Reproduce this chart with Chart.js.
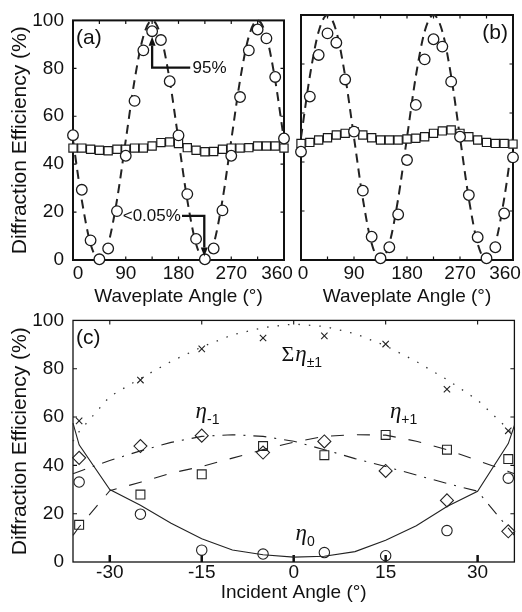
<!DOCTYPE html>
<html>
<head>
<meta charset="utf-8">
<script src="https://cdn.jsdelivr.net/npm/chart.js@4.4.1/dist/chart.umd.min.js"></script>
<style>
  body { margin: 0; background: #fff; }
  #wrap { position: relative; width: 522px; height: 612px; overflow: hidden; background: #fff; }
  canvas { position: absolute; }
</style>
</head>
<body>
<div id="wrap">
  <canvas id="chartA" width="300" height="310" style="left:0;top:0"></canvas>
  <canvas id="chartB" width="262" height="310" style="left:260px;top:0"></canvas>
  <canvas id="chartC" width="522" height="312" style="left:0;top:300px"></canvas>
</div>
<script>
Chart.defaults.font.family = '"Liberation Sans", Arial, Helvetica, sans-serif';
Chart.defaults.color = '#111';

// waveplate scans (a) and (b)
var waveAngles = [0,15,30,45,60,75,90,105,120,135,150,165,180,195,210,225,240,255,270,285,300,315,330,345,360];
var circA = [52.1,29.3,8.2,0.3,4.8,20.4,43.5,66.4,87.5,95.5,91.8,74.6,52.0,27.5,8.8,0.3,4.8,20.7,43.5,68.0,87.5,96.2,92.5,76.4,50.7];
var squareA = [46.7,46.7,46.2,45.8,45.6,46.2,46.2,46.7,46.7,47.6,49.0,49.3,48.6,46.9,45.8,45.2,45.3,46.2,46.7,46.7,46.9,47.6,47.6,47.6,46.7];
var fitA = [50,25,6.7,0,6.7,25,50,75,93.3,100,93.3,75,50,25,6.7,0,6.7,25,50,75,93.3,100,93.3,75,50];
var circB = [44.2,66.7,83.7,92.5,88.7,73.7,52.4,28.3,9.5,0.7,5.2,18.6,40.8,63.3,81.9,90.1,87.1,72.8,50.3,26.5,9.3,0.7,5.2,19.0,41.9];
var squareB = [47.6,48.0,49.0,49.9,51.0,51.7,52.4,51.0,49.9,49.0,49.0,49.0,49.4,49.7,50.3,51.7,52.7,53.1,51.7,50.3,49.0,48.0,47.6,47.6,47.3];
var fitB = [50,75,93.3,100,93.3,75,50,25,6.7,0,6.7,25,50,75,93.3,100,93.3,75,50,25,6.7,0,6.7,25,50];

// incident angle scan (c)
var incAngles = [-35,-25,-15,-5,5,15,25,35];
var sumMeas   = [58.4,75.3,88.2,92.7,93.6,90.2,71.5,54.3];
var minusMeas = [43.1,48.0,52.3,45.3,49.9,37.7,25.5,12.7];
var plusMeas  = [15.4,27.9,36.3,48.0,44.2,52.6,46.5,42.6];
var zeroMeas  = [33.1,19.8,4.9,3.3,3.9,2.6,13.0,34.7];
var modelAngles = [-36,-35,-30,-25,-20,-15,-10,-5,0,5,10,15,20,25,30,35,36];
var sumModel   = [50,54,68.5,76,83,89,94,97,98.5,97.5,94.5,89.5,83,75.5,67,55,52];
var minusModel = [36.5,37.5,42,46,49.5,52,52.7,52,50,46.5,42.8,39.5,36,32.5,29.3,14,11];
var plusModel  = [11,14.5,29.5,33,36.8,39.5,43,46.5,49.6,52,52.7,52.5,50,46.5,42,37.5,36.5];
var zeroModel  = [57.5,48.5,30,23.5,16,9.6,5,3,2,2.4,4.3,9,15,23,29.3,49,56.5];

var waveLabels = [0,90,180,270,360];
var waveMarks = [45,90,135,180,225,270,315];
var incLabels = [-30,-15,0,15,30];
var effTicks = [0,20,40,60,80,100];
var effMarks = [20,40,60,80];

function pts(xs, ys) {
  return xs.map(function (x, i) { return { x: x, y: ys[i] }; });
}

function makeFrame(cfg) {
  return {
    id: 'frame',
    beforeDatasetsDraw: function (chart) {
      var ctx = chart.ctx, a = chart.chartArea, xs = chart.scales.x, ys = chart.scales.y;
      ctx.save();
      ctx.strokeStyle = '#111';
      cfg.xMarks.forEach(function (v) {
        var px = xs.getPixelForValue(v);
        ctx.lineWidth = cfg.tickWidth;
        ctx.beginPath(); ctx.moveTo(px, a.top); ctx.lineTo(px, a.top + cfg.tickLen); ctx.stroke();
        ctx.lineWidth = cfg.bottomTickWidth;
        ctx.beginPath(); ctx.moveTo(px, a.bottom); ctx.lineTo(px, a.bottom - cfg.bottomTickLen); ctx.stroke();
      });
      ctx.lineWidth = cfg.tickWidth;
      effMarks.forEach(function (v) {
        var py = ys.getPixelForValue(v);
        ctx.beginPath();
        ctx.moveTo(a.left, py); ctx.lineTo(a.left + cfg.tickLen, py);
        ctx.moveTo(a.right, py); ctx.lineTo(a.right - cfg.tickLen, py);
        ctx.stroke();
      });
      ctx.lineWidth = cfg.border;
      ctx.strokeRect(a.left, a.top, a.right - a.left, a.bottom - a.top);
      ctx.restore();
    },
    afterDraw: function (chart) {
      var ctx = chart.ctx, a = chart.chartArea, xs = chart.scales.x;
      ctx.save();
      ctx.fillStyle = '#111';
      ctx.font = '19px "Liberation Sans", Arial, sans-serif';
      ctx.textAlign = 'center';
      ctx.textBaseline = 'middle';
      var n = cfg.xLabels.length;
      cfg.xLabels.forEach(function (v, i) {
        var shift = i === 0 ? cfg.endShift[0] : (i === n - 1 ? cfg.endShift[1] : 0);
        ctx.fillText(String(v), xs.getPixelForValue(v) + shift, a.bottom + cfg.labelDy);
      });
      ctx.font = '21px "Liberation Sans", Arial, sans-serif';
      if (cfg.tagRight) {
        ctx.textAlign = 'right';
        ctx.fillText(cfg.tag, a.right - 5, a.top + 18);
      } else {
        ctx.textAlign = 'left';
        ctx.fillText(cfg.tag, a.left + 3, a.top + 18);
      }
      ctx.restore();
    }
  };
}

function arrowPath(ctx, chart, path) {
  var xs = chart.scales.x, ys = chart.scales.y;
  var p = path.map(function (q) { return [xs.getPixelForValue(q[0]), ys.getPixelForValue(q[1])]; });
  var last = p[p.length - 1], prev = p[p.length - 2];
  var ang = Math.atan2(last[1] - prev[1], last[0] - prev[0]);
  var headL = 9, headW = 3.5;
  ctx.beginPath();
  ctx.moveTo(p[0][0], p[0][1]);
  for (var i = 1; i < p.length - 1; i++) ctx.lineTo(p[i][0], p[i][1]);
  ctx.lineTo(last[0] - Math.cos(ang) * headL, last[1] - Math.sin(ang) * headL);
  ctx.stroke();
  ctx.beginPath();
  ctx.moveTo(last[0], last[1]);
  ctx.lineTo(last[0] - Math.cos(ang) * headL - Math.sin(ang) * headW, last[1] - Math.sin(ang) * headL + Math.cos(ang) * headW);
  ctx.lineTo(last[0] - Math.cos(ang) * headL + Math.sin(ang) * headW, last[1] - Math.sin(ang) * headL - Math.cos(ang) * headW);
  ctx.closePath();
  ctx.fill();
}

var notesA = {
  id: 'notesA',
  afterDraw: function (chart) {
    var ctx = chart.ctx, xs = chart.scales.x, ys = chart.scales.y;
    ctx.save();
    ctx.strokeStyle = '#111';
    ctx.fillStyle = '#111';
    ctx.lineWidth = 2.3;
    arrowPath(ctx, chart, [[200, 80.3], [135, 80.3], [135, 93.2]]);
    arrowPath(ctx, chart, [[186, 18.4], [224, 18.4], [224, 1.5]]);
    ctx.font = '17px "Liberation Sans", Arial, sans-serif';
    ctx.textBaseline = 'middle';
    ctx.textAlign = 'left';
    ctx.fillText('95%', xs.getPixelForValue(204), ys.getPixelForValue(79.8));
    ctx.textAlign = 'right';
    ctx.fillText('<0.05%', xs.getPixelForValue(184), ys.getPixelForValue(18.2));
    ctx.restore();
  }
};

function drawEta(ctx, x, y, pre, sub) {
  ctx.textAlign = 'left';
  ctx.textBaseline = 'alphabetic';
  var cx = x;
  if (pre) {
    ctx.font = '22px "Liberation Serif", "DejaVu Serif", serif';
    ctx.fillText(pre, cx, y);
    cx += ctx.measureText(pre).width + 1;
  }
  ctx.font = 'italic 23px "Liberation Serif", "DejaVu Serif", serif';
  ctx.fillText('\u03b7', cx, y);
  cx += ctx.measureText('\u03b7').width;
  ctx.font = '14px "Liberation Sans", Arial, sans-serif';
  ctx.fillText(sub, cx, y + 6);
}

var notesC = {
  id: 'notesC',
  afterDraw: function (chart) {
    var ctx = chart.ctx, xs = chart.scales.x, ys = chart.scales.y;
    ctx.save();
    ctx.fillStyle = '#111';
    drawEta(ctx, xs.getPixelForValue(-2), ys.getPixelForValue(83.3), '\u03a3', '\u00b11');
    drawEta(ctx, xs.getPixelForValue(-16), ys.getPixelForValue(59.8), '', '-1');
    drawEta(ctx, xs.getPixelForValue(15.7), ys.getPixelForValue(59.8), '', '+1');
    drawEta(ctx, xs.getPixelForValue(0.3), ys.getPixelForValue(8.9), '', '0');
    ctx.restore();
  }
};

function yScale(showLabels, width) {
  return {
    min: 0, max: 100,
    afterBuildTicks: function (s) { s.ticks = effTicks.map(function (v) { return { value: v }; }); },
    afterFit: function (s) { s.width = width; },
    grid: { display: false, drawTicks: false },
    border: { display: false },
    ticks: { display: showLabels, font: { size: 19 }, color: '#111', padding: 9 },
    title: {
      display: showLabels, text: 'Diffraction Efficiency (%)',
      font: { size: 21 }, color: '#111', padding: { top: 8, bottom: 0 }
    }
  };
}

function xScale(min, max, title, padBottom) {
  return {
    type: 'linear', min: min, max: max,
    afterFit: function (s) { s.height = 50; },
    grid: { display: false, drawTicks: false },
    border: { display: false },
    ticks: { display: false },
    title: { display: true, text: title, font: { size: 19 }, color: '#111', padding: { top: 0, bottom: padBottom } }
  };
}

function baseOptions(xs, ys, pad) {
  return {
    responsive: false,
    maintainAspectRatio: false,
    animation: false,
    events: [],
    layout: { padding: pad },
    plugins: { legend: { display: false }, tooltip: { enabled: false } },
    scales: { x: xs, y: ys }
  };
}

function waveSets(circ, square, fit) {
  return [
    { data: pts(waveAngles, circ), pointStyle: 'circle', pointRadius: 5.3,
      pointBorderWidth: 1.3, pointBorderColor: '#1a1a1a', pointBackgroundColor: '#fff', clip: false },
    { data: pts(waveAngles, square), pointStyle: 'rect', pointRadius: 5.8,
      pointBorderWidth: 1.2, pointBorderColor: '#1a1a1a', pointBackgroundColor: '#fff', clip: false },
    { data: pts(waveAngles, fit), showLine: true, pointRadius: 0, borderColor: '#222', borderWidth: 2,
      borderDash: [9, 6], cubicInterpolationMode: 'monotone', clip: false }
  ];
}

new Chart(document.getElementById('chartA'), {
  type: 'scatter',
  data: { datasets: waveSets(circA, squareA, fitA) },
  options: baseOptions(xScale(0, 360, 'Waveplate Angle (\u00b0)', 2), yScale(true, 73),
    { top: 15, right: 16, left: 0, bottom: 0 }),
  plugins: [makeFrame({ xMarks: waveMarks, xLabels: waveLabels, endShift: [5, -7], labelDy: 14,
    tickLen: 3.5, tickWidth: 1.2, bottomTickLen: 3.5, bottomTickWidth: 1.2, border: 2, tag: '(a)' }), notesA]
});

new Chart(document.getElementById('chartB'), {
  type: 'scatter',
  data: { datasets: waveSets(circB, squareB, fitB) },
  options: baseOptions(xScale(0, 360, 'Waveplate Angle (\u00b0)', 2), yScale(false, 41),
    { top: 15, right: 9, left: 0, bottom: 0 }),
  plugins: [makeFrame({ xMarks: waveMarks, xLabels: waveLabels, endShift: [2, -8], labelDy: 14,
    tickLen: 3.5, tickWidth: 1.2, bottomTickLen: 3.5, bottomTickWidth: 1.2, border: 2, tag: '(b)', tagRight: true })]
});

new Chart(document.getElementById('chartC'), {
  type: 'scatter',
  data: {
    datasets: [
      { data: pts(incAngles, sumMeas), pointStyle: 'crossRot', pointRadius: 4.5,
        pointBorderWidth: 1.1, pointBorderColor: '#222', clip: false },
      { data: pts(incAngles, minusMeas), pointStyle: 'rectRot', pointRadius: 6.5,
        pointBorderWidth: 1.1, pointBorderColor: '#222', pointBackgroundColor: 'rgba(0,0,0,0)', clip: false },
      { data: pts(incAngles, plusMeas), pointStyle: 'rect', pointRadius: 6.3,
        pointBorderWidth: 1.1, pointBorderColor: '#222', pointBackgroundColor: 'rgba(0,0,0,0)', clip: false },
      { data: pts(incAngles, zeroMeas), pointStyle: 'circle', pointRadius: 5.2,
        pointBorderWidth: 1.1, pointBorderColor: '#222', pointBackgroundColor: 'rgba(0,0,0,0)', clip: false },
      { data: pts(modelAngles, sumModel), showLine: true, pointRadius: 0, borderColor: '#333',
        borderWidth: 1.3, borderDash: [1.5, 9], clip: false },
      { data: pts(modelAngles, minusModel), showLine: true, pointRadius: 0, borderColor: '#222',
        borderWidth: 1.1, borderDash: [13, 8, 2, 8], clip: false },
      { data: pts(modelAngles, plusModel), showLine: true, pointRadius: 0, borderColor: '#222',
        borderWidth: 1.1, borderDash: [13, 13], clip: false },
      { data: pts(modelAngles, zeroModel), showLine: true, pointRadius: 0, borderColor: '#222',
        borderWidth: 1.1, clip: false }
    ]
  },
  options: baseOptions(xScale(-36, 36, 'Incident Angle (\u00b0)', 7.5), yScale(true, 73),
    { top: 16, right: 7, left: 0, bottom: 0 }),
  plugins: [makeFrame({ xMarks: incLabels, xLabels: incLabels, endShift: [0, 0], labelDy: 11,
    tickLen: 4, tickWidth: 1.1, bottomTickLen: 7, bottomTickWidth: 2.5, border: 1.3, tag: '(c)' }), notesC]
});
</script>
</body>
</html>
